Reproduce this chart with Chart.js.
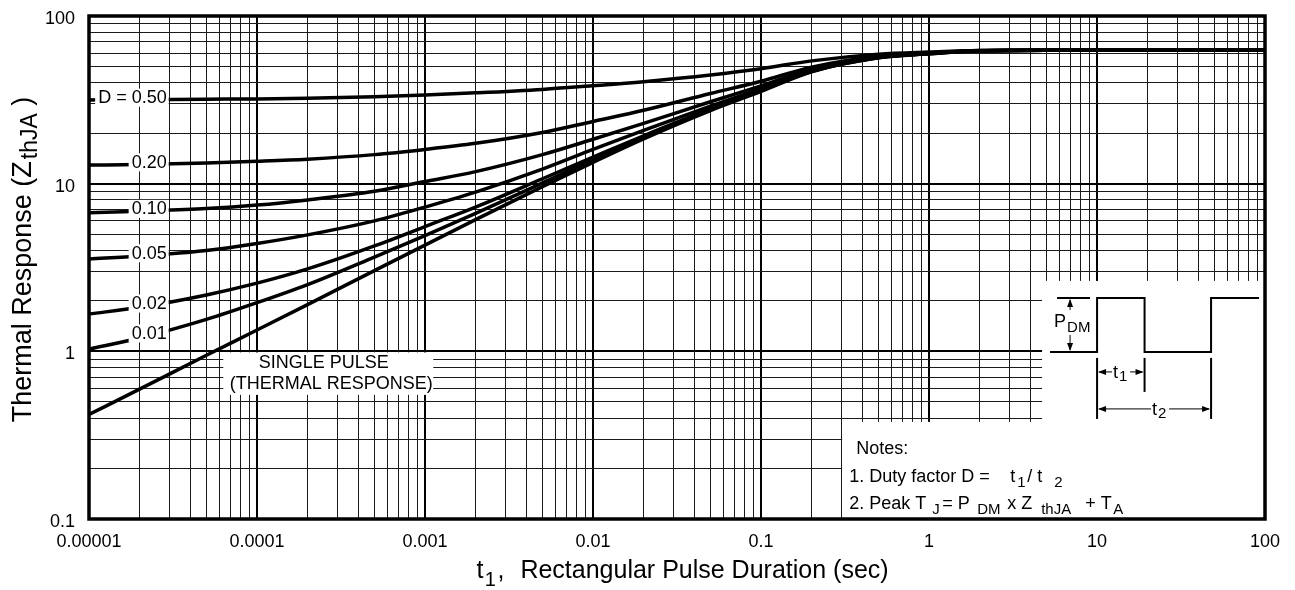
<!DOCTYPE html>
<html>
<head>
<meta charset="utf-8">
<script src="https://cdn.jsdelivr.net/npm/chart.js@4.4.1/dist/chart.umd.min.js"></script>
<style>
  html, body { margin: 0; padding: 0; background: #fff; }
  #wrap { width: 1295px; height: 590px; position: relative; }
</style>
</head>
<body>
<div id="wrap"><canvas id="c" width="1295" height="590"></canvas></div>
<script>
// ---------------- data ----------------
const pulseDuration = [1e-5, 2e-5, 5e-5, 1e-4, 2e-4, 5e-4, 1e-3, 2e-3, 5e-3, 0.01, 0.02, 0.05, 0.1, 0.2, 0.5, 1, 2, 5, 10, 20, 50, 100];

const zthD050 = [31.6, 31.7, 31.9, 32.0, 32.3, 33.0, 33.8, 34.8, 36.5, 38.4, 40.6, 44.5, 48.5, 54.0, 59.2, 61.0, 62.3, 62.5, 62.5, 62.5, 62.5, 62.5];
const zthD020 = [12.9, 13.0, 13.3, 13.6, 14.0, 14.9, 16.0, 17.4, 20.2, 23.5, 27.4, 34.5, 40.8, 49.5, 57.5, 60.3, 62.2, 62.5, 62.5, 62.5, 62.5, 62.5];
const zthD010 = [6.7, 6.85, 7.1, 7.45, 8.0, 9.0, 10.3, 11.8, 14.9, 18.4, 22.9, 30.8, 38.3, 48.0, 57.0, 60.0, 62.1, 62.5, 62.5, 62.5, 62.5, 62.5];
const zthD005 = [3.55, 3.7, 4.0, 4.4, 4.95, 6.0, 7.25, 8.9, 12.2, 16.0, 20.8, 29.0, 36.9, 47.3, 56.7, 59.8, 62.0, 62.5, 62.5, 62.5, 62.5, 62.5];
const zthD002 = [1.67, 1.83, 2.17, 2.55, 3.1, 4.25, 5.55, 7.25, 10.7, 14.4, 19.3, 27.9, 36.0, 46.8, 56.5, 59.7, 62.0, 62.5, 62.5, 62.5, 62.5, 62.5];
const zthD001 = [1.03, 1.2, 1.55, 1.95, 2.5, 3.65, 4.9, 6.65, 10.1, 13.9, 18.9, 27.6, 35.8, 46.7, 56.4, 59.6, 62.0, 62.5, 62.5, 62.5, 62.5, 62.5];
const zthSingle = [0.42, 0.595, 0.947, 1.34, 1.9, 3.03, 4.3, 6.1, 9.6, 13.4, 18.5, 27.3, 35.5, 46.5, 56.3, 59.5, 62.0, 62.5, 62.5, 62.5, 62.5, 62.5];

const curveLabels = ['D = 0.50', '0.20', '0.10', '0.05', '0.02', '0.01'];
const singlePulseLabel = ['SINGLE PULSE', '(THERMAL RESPONSE)'];

const xDecades = [1e-5, 1e-4, 1e-3, 1e-2, 1e-1, 1, 10, 100];
const xTickLabels = ['0.00001', '0.0001', '0.001', '0.01', '0.1', '1', '10', '100'];
const yDecades = [0.1, 1, 10, 100];
const yTickLabels = ['0.1', '1', '10', '100'];

// ---------------- helpers ----------------
const FONT = "'Liberation Sans', Arial, sans-serif";
Chart.defaults.font.family = FONT;
Chart.defaults.color = '#000';

function logTicks(min, max) {
  const out = [];
  const e0 = Math.round(Math.log10(min)), e1 = Math.round(Math.log10(max));
  for (let e = e0; e < e1; e++) {
    for (let m = 1; m <= 9; m++) out.push({ value: Number((m * Math.pow(10, e)).toPrecision(4)) });
  }
  out.push({ value: max });
  return out;
}
function decadeIndex(list, v) {
  for (let i = 0; i < list.length; i++) {
    if (Math.abs(Math.log10(v) - Math.log10(list[i])) < 1e-6) return i;
  }
  return -1;
}
function isDecade(v) {
  const l = Math.log10(v);
  return Math.abs(l - Math.round(l)) < 1e-6;
}
function curveYAt(chart, ds, px) {
  const pts = chart.getDatasetMeta(ds).data;
  for (let i = 0; i < pts.length - 1; i++) {
    const a = pts[i], b = pts[i + 1];
    if (px >= a.x && px <= b.x) {
      const t = (px - a.x) / (b.x - a.x);
      return a.y + t * (b.y - a.y);
    }
  }
  return pts[0].y;
}
function arrowHead(ctx, x, y, dir) {
  const L = 8, W = 3;
  ctx.beginPath();
  if (dir === 'up') { ctx.moveTo(x, y); ctx.lineTo(x - W, y + L); ctx.lineTo(x + W, y + L); }
  if (dir === 'down') { ctx.moveTo(x, y); ctx.lineTo(x - W, y - L); ctx.lineTo(x + W, y - L); }
  if (dir === 'left') { ctx.moveTo(x, y); ctx.lineTo(x + L, y - W); ctx.lineTo(x + L, y + W); }
  if (dir === 'right') { ctx.moveTo(x, y); ctx.lineTo(x - L, y - W); ctx.lineTo(x - L, y + W); }
  ctx.closePath();
  ctx.fill();
}
function line(ctx, x1, y1, x2, y2, w) {
  ctx.lineWidth = w;
  ctx.beginPath(); ctx.moveTo(x1, y1); ctx.lineTo(x2, y2); ctx.stroke();
}
function drawParts(ctx, x0, y0, parts, mainSize, subSize, subDrop) {
  ctx.textAlign = 'left';
  ctx.textBaseline = 'alphabetic';
  for (const [t, sub, dx] of parts) {
    ctx.font = (sub ? subSize : mainSize) + 'px ' + FONT;
    ctx.fillText(t, x0 + dx, y0 + (sub ? subDrop : 0));
  }
}

// annotation anchors in data units
const notesBox = { x: 0.3, y: 0.3795 };
const insetBox = { x: 4.71, y: 2.63 };
const singleBox = { x0: 6.3e-5, x1: 1.12e-3, y0: 0.55, y1: 0.985, cx: 2.5e-4 };
const labelRightX = 2.9e-5;

const decor = {
  id: 'decor',
  beforeDatasetsDraw(chart) {
    const { ctx, chartArea: ca, scales: { x, y } } = chart;
    ctx.save();
    ctx.fillStyle = '#fff';
    const nl = x.getPixelForValue(notesBox.x) + 1, nt = y.getPixelForValue(notesBox.y);
    ctx.fillRect(nl, nt, ca.right - nl, ca.bottom - nt);
    const il = x.getPixelForValue(insetBox.x), it = y.getPixelForValue(insetBox.y);
    ctx.fillRect(il, it, ca.right - il, nt - it + 1);
    ctx.restore();
  },
  afterDatasetsDraw(chart) {
    const { ctx, chartArea: ca, scales: { x, y } } = chart;
    ctx.save();
    // curve labels
    ctx.font = '18px ' + FONT;
    const right = x.getPixelForValue(labelRightX);
    curveLabels.forEach((lab, i) => {
      const w = ctx.measureText(lab).width;
      const cx = right - w / 2;
      const cy = curveYAt(chart, i, cx) - 2;
      ctx.fillStyle = '#fff';
      ctx.fillRect(right - w - 3, cy - 9, w + 5, 18);
      ctx.fillStyle = '#000';
      ctx.textAlign = 'right';
      ctx.textBaseline = 'middle';
      ctx.fillText(lab, right, cy + 0.5);
    });
    // single pulse label
    const sx0 = x.getPixelForValue(singleBox.x0), sx1 = x.getPixelForValue(singleBox.x1);
    const sy0 = y.getPixelForValue(singleBox.y1), sy1 = y.getPixelForValue(singleBox.y0);
    ctx.fillStyle = '#fff';
    ctx.fillRect(sx0, sy0, sx1 - sx0, sy1 - sy0);
    ctx.fillStyle = '#000';
    ctx.textAlign = 'center';
    ctx.textBaseline = 'middle';
    ctx.font = '18px ' + FONT;
    const scx = x.getPixelForValue(singleBox.cx);
    ctx.fillText(singlePulseLabel[0], scx, sy0 + 11);
    ctx.fillText(singlePulseLabel[1], (sx0 + sx1) / 2 + 3, sy0 + 32);

    // notes text
    const nl = x.getPixelForValue(notesBox.x) + 1, nt = y.getPixelForValue(notesBox.y);
    const lx = nl + 7;
    drawParts(ctx, lx + 7, nt + 32, [['Notes:', 0, 0]], 18, 15, 5);
    drawParts(ctx, lx, nt + 60, [['1. Duty factor D =', 0, 0], ['t', 0, 161], ['1', 1, 168], ['/ t', 0, 178], ['2', 1, 205]], 18, 15, 5);
    drawParts(ctx, lx, nt + 87, [['2. Peak T', 0, 0], ['J', 1, 83], ['= P', 0, 93], ['DM', 1, 128], ['x Z', 0, 158], ['thJA', 1, 192], ['+ T', 0, 236], ['A', 1, 264]], 18, 15, 5);

    // pulse diagram (inset)
    const L = x.getPixelForValue(insetBox.x), T = y.getPixelForValue(insetBox.y);
    const top = T + 17, bot = T + 71;
    const xa = L + 55, xb = L + 102.5, xc = L + 169, xe = L + 217;
    ctx.strokeStyle = '#000';
    ctx.fillStyle = '#000';
    ctx.lineCap = 'butt';
    ctx.lineJoin = 'miter';
    ctx.lineWidth = 2;
    ctx.beginPath();
    ctx.moveTo(L + 8, bot); ctx.lineTo(xa, bot); ctx.lineTo(xa, top); ctx.lineTo(xb, top);
    ctx.lineTo(xb, bot); ctx.lineTo(xc, bot); ctx.lineTo(xc, top); ctx.lineTo(xe, top);
    ctx.stroke();
    line(ctx, L + 15, top, L + 48, top, 2);
    const px = L + 28;
    line(ctx, px, top + 2, px, bot - 2, 1);
    arrowHead(ctx, px, top + 1, 'up');
    arrowHead(ctx, px, bot - 1, 'down');
    ctx.fillStyle = '#fff';
    ctx.fillRect(L + 24, T + 29, 26, 25);
    ctx.fillStyle = '#000';
    drawParts(ctx, L + 12, T + 46, [['P', 0, 0], ['DM', 1, 13]], 18, 15, 5);
    line(ctx, xa, T + 77, xa, T + 138, 2);
    line(ctx, xb, T + 77, xb, T + 111, 2);
    line(ctx, xc, T + 77, xc, T + 138, 2);
    const y1 = T + 91, y2 = T + 128;
    line(ctx, xa + 2, y1, xb - 2, y1, 1);
    arrowHead(ctx, xa + 1, y1, 'left');
    arrowHead(ctx, xb - 1, y1, 'right');
    line(ctx, xa + 2, y2, xc - 2, y2, 1);
    arrowHead(ctx, xa + 1, y2, 'left');
    arrowHead(ctx, xc - 1, y2, 'right');
    ctx.fillStyle = '#fff';
    ctx.fillRect(L + 70, y1 - 8, 18, 16);
    ctx.fillRect(L + 109, y2 - 8, 18, 16);
    ctx.fillStyle = '#000';
    drawParts(ctx, L + 71, y1 + 6, [['t', 0, 0], ['1', 1, 6]], 18, 15, 3);
    drawParts(ctx, L + 110, y2 + 6, [['t', 0, 0], ['2', 1, 6]], 18, 15, 3);

    // frame
    ctx.strokeStyle = '#000';
    ctx.lineWidth = 3.5;
    ctx.strokeRect(ca.left, ca.top, ca.right - ca.left, ca.bottom - ca.top);
    ctx.restore();
  },
  afterDraw(chart) {
    const { ctx, chartArea: ca } = chart;
    ctx.save();
    ctx.fillStyle = '#000';
    ctx.textBaseline = 'alphabetic';
    ctx.textAlign = 'left';
    ctx.font = '25px ' + FONT;
    const wt = ctx.measureText('t').width;
    const wRest = ctx.measureText('Rectangular Pulse Duration (sec)').width;
    const xStart = (ca.left + ca.right) / 2 + 5.5 - (wRest + 44) / 2;
    const by = ca.bottom + 59;
    ctx.fillText('t', xStart, by);
    ctx.font = '20px ' + FONT;
    ctx.fillText('1', xStart + wt + 1.5, by + 8);
    ctx.font = '25px ' + FONT;
    ctx.fillText(',', xStart + 21, by);
    ctx.fillText('Rectangular Pulse Duration (sec)', xStart + 44, by);

    ctx.font = '27px ' + FONT;
    const a = 'Thermal Response (Z';
    const wa = ctx.measureText(a).width;
    ctx.font = '23px ' + FONT;
    const wsub = ctx.measureText('thJA').width;
    ctx.font = '27px ' + FONT;
    const wc = ctx.measureText(' )').width;
    const total = wa + 2 + wsub + wc;
    const cy = (ca.top + ca.bottom) / 2 - 8;
    ctx.translate(31, cy + total / 2);
    ctx.rotate(-Math.PI / 2);
    ctx.fillText(a, 0, 0);
    ctx.font = '23px ' + FONT;
    ctx.fillText('thJA', wa + 2, 6);
    ctx.font = '27px ' + FONT;
    ctx.fillText(' )', wa + 2 + wsub, 0);
    ctx.restore();
  }
};

const series = [zthD050, zthD020, zthD010, zthD005, zthD002, zthD001, zthSingle];
const names = ['D = 0.50', 'D = 0.20', 'D = 0.10', 'D = 0.05', 'D = 0.02', 'D = 0.01', 'Single pulse'];

const datasets = series.map((vals, i) => ({
  label: names[i],
  data: pulseDuration.map((t, k) => ({ x: t, y: vals[k] })),
  borderColor: '#000',
  borderWidth: 3.5,
  pointRadius: 0,
  fill: false,
  cubicInterpolationMode: 'monotone',
  borderCapStyle: 'round'
}));

const gridColor = (c) => (c.tick && isDecade(c.tick.value)) ? '#000' : '#1a1a1a';
const gridWidth = (c) => (c.tick && isDecade(c.tick.value)) ? 2 : 1;

function zeroPad(s) { s.paddingTop = 0; s.paddingBottom = 0; s.paddingLeft = 0; s.paddingRight = 0; }

new Chart(document.getElementById('c'), {
  type: 'line',
  data: { datasets },
  options: {
    responsive: false,
    animation: false,
    devicePixelRatio: 1,
    layout: { padding: { left: 0, right: 30, top: 16, bottom: 0 } },
    plugins: { legend: { display: false }, tooltip: { enabled: false } },
    scales: {
      x: {
        type: 'logarithmic',
        position: 'bottom',
        min: 1e-5,
        max: 100,
        afterBuildTicks: (s) => { s.ticks = logTicks(1e-5, 100); },
        afterFit: (s) => { s.height = 71; zeroPad(s); },
        border: { display: false },
        grid: { drawTicks: false, color: gridColor, lineWidth: gridWidth },
        ticks: {
          autoSkip: false,
          maxRotation: 0,
          padding: 12,
          font: { size: 18 },
          color: '#000',
          callback: (v) => { const i = decadeIndex(xDecades, v); return i >= 0 ? xTickLabels[i] : ''; }
        }
      },
      y: {
        type: 'logarithmic',
        position: 'left',
        min: 0.1,
        max: 100,
        afterBuildTicks: (s) => { s.ticks = logTicks(0.1, 100); },
        afterFit: (s) => { s.width = 89; zeroPad(s); },
        border: { display: false },
        grid: { drawTicks: false, color: gridColor, lineWidth: gridWidth },
        ticks: {
          autoSkip: false,
          padding: 14,
          labelOffset: 3,
          font: { size: 18 },
          color: '#000',
          callback: (v) => { const i = decadeIndex(yDecades, v); return i >= 0 ? yTickLabels[i] : ''; }
        }
      }
    }
  },
  plugins: [decor]
});
</script>
</body>
</html>
